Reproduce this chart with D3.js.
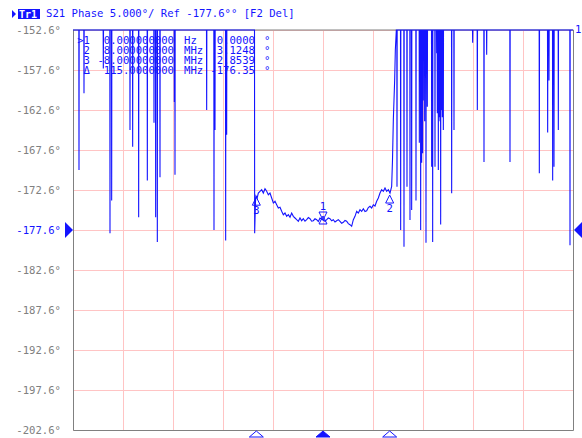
<!DOCTYPE HTML>
<html>
<head>
<meta charset="utf-8" />
<script src="https://d3js.org/d3.v7.min.js"></script>
<style>
body { margin: 0; background: #fff; }
text { font-family: "DejaVu Sans Mono", monospace; font-size: 10.6px; }
</style>
</head>
<body>
<svg id="chart" width="582" height="438"></svg>
<script>
// y axis (degrees), 5 deg/div, ref -177.6
var yTicks = [-152.6, -157.6, -162.6, -167.6, -172.6, -177.6, -182.6, -187.6, -192.6, -197.6, -202.6];
var refValue = -177.6;
// x axis: center 0 Hz, span 60 MHz
var freqTicks = [-30, -24, -18, -12, -6, 0, 6, 12, 18, 24, 30];

// in-band part of the trace (MHz, deg)
var bandFreq = [-8.20, -8.10, -8.04, -7.90, -7.76, -7.56, -7.36, -7.16, -6.96, -6.76, -6.56, -6.36, -6.16, -5.96, -5.76, -5.56, -5.36, -5.16, -4.96, -4.76, -4.56, -4.36, -4.16, -3.96, -3.76, -3.56, -3.36, -3.16, -2.96, -2.76, -2.56, -2.36, -2.16, -1.96, -1.76, -1.56, -1.36, -1.16, -0.96, -0.76, -0.56, -0.36, 0, 0.24, 0.44, 0.64, 0.84, 1.04, 1.24, 1.44, 1.64, 1.84, 2.04, 2.24, 2.44, 2.64, 2.84, 3.04, 3.24, 3.44, 3.64, 3.84, 4.04, 4.24, 4.44, 4.64, 4.84, 5.04, 5.24, 5.44, 5.64, 5.84, 6.04, 6.24, 6.44, 6.64, 6.84, 7.04, 7.24, 7.44, 7.64, 7.84, 8.04, 8.24, 8.34, 8.44, 8.60, 8.68, 8.80];
var bandPhase = [-178.0, -174.0, -173.35, -173.6, -172.98, -172.76, -172.56, -172.98, -172.44, -172.76, -173.19, -172.98, -173.6, -174.23, -174.01, -174.44, -174.85, -174.76, -175.26, -175.69, -175.48, -175.89, -175.69, -176.01, -175.48, -175.89, -176.1, -176.31, -176.51, -176.1, -176.44, -176.19, -176.5, -176.31, -176.05, -176.19, -176.5, -176.44, -176.2, -176.31, -176.55, -176.1, -176.35, -176.5, -176.31, -176.1, -176.19, -176.45, -176.31, -176.6, -176.44, -176.3, -176.51, -176.75, -176.64, -176.4, -176.51, -176.8, -176.94, -177.14, -176.31, -175.89, -175.26, -175.48, -175.06, -175.26, -174.94, -175.3, -175.19, -174.8, -174.64, -174.85, -174.44, -174.6, -174.01, -173.6, -172.98, -172.56, -172.76, -172.35, -172.76, -172.56, -172.98, -172.14, -168.85, -163.85, -158.85, -155.1, -150.0];

// out-of-band: phase sits above the screen with dips down (MHz, deg)
var overRange = -150.0;
var spikeFreq = [-29.28, -28.68, -26.36, -25.56, -25.36, -23.16, -22.84, -22.12, -21.08, -20.28, -20.08, -19.88, -19.56, -17.84, -17.76, -13.96, -13.08, -12.96, -11.68, -11.56,
                 8.88, 9.32, 9.72, 10.08, 10.44, 10.64, 11.16, 11.56, 11.72, 11.84, 11.96, 12.04, 12.20, 12.36, 12.52, 13.04, 13.16, 13.44, 13.64, 13.72, 13.84, 13.96, 14.04, 14.12, 14.24, 14.32, 14.44, 15.44, 15.72, 17.96, 18.52, 19.32, 19.64, 22.44, 25.96, 26.96, 27.12, 27.56, 27.72, 28.24, 29.64];
var spikeDepth = [-170.1, -160.5, -157.4, -178.0, -173.9, -165.1, -167.2, -176.0, -171.4, -164.2, -176.0, -179.1, -171.0, -161.6, -170.7, -162.6, -177.6, -165.1, -178.9, -165.7,
                  -172.2, -177.6, -179.7, -172.2, -176.35, -175.1, -173.9, -166.7, -177.6, -169.2, -168.0, -161.4, -164.0, -179.2, -162.2, -169.7, -179.1, -169.7, -155.5, -163.0, -170.1, -163.5, -164.0, -176.9, -162.6, -163.5, -165.1, -173.0, -165.1, -154.2, -162.6, -169.1, -155.7, -169.1, -170.5, -165.4, -158.9, -171.4, -169.7, -165.1, -179.5];

// markers
var markerIds = ["1", "2", "3"];
var markerFreq = [0, 8, -8];
var markerPhase = [-176.35, -173.23, -173.50];
var tableIds = [">1", "2", "3", "\u0394"];
var tableStim = ["0.000000000", "8.000000000", "-8.000000000", "115.0000000"];
var tableUnit = ["Hz", "MHz", "MHz", "MHz"];
var tableValue = ["0.0000", "3.1248", "2.8539", "-176.35"];

var blue = "#1414ff", gray = "#808080", grid = "#ffc4c4";
var svg = d3.select("#chart");
var plotL = 73, plotR = 573, plotT = 30, plotB = 430;

var x = d3.scaleLinear().domain([-30, 30]).range([plotL, plotR]);
var y = d3.scaleLinear().domain([-202.6, -152.6]).range([plotB, plotT]).clamp(true);

// grid
svg.append("g").selectAll("line").data(yTicks).enter().append("line")
  .attr("x1", plotL).attr("x2", plotR)
  .attr("y1", function(d){ return Math.round(y(d)) + 0.5; }).attr("y2", function(d){ return Math.round(y(d)) + 0.5; })
  .attr("stroke", grid);
svg.append("g").selectAll("line").data(freqTicks).enter().append("line")
  .attr("x1", function(d){ return Math.round(x(d)) + 0.5; }).attr("x2", function(d){ return Math.round(x(d)) + 0.5; })
  .attr("y1", plotT).attr("y2", plotB)
  .attr("stroke", grid);

// frame
svg.append("path")
  .attr("d", "M" + (plotL + 0.5) + "," + plotT + "V" + (plotB + 0.5) + "H" + (plotR + 0.5) + "V" + plotT + "H" + plotL)
  .attr("fill", "none").attr("stroke", gray);

// y labels
svg.append("g").selectAll("text").data(yTicks).enter().append("text")
  .attr("x", 61).attr("y", function(d){ return y(d) + 4; })
  .attr("text-anchor", "end")
  .attr("fill", function(d){ return d === refValue ? blue : gray; })
  .text(function(d){ return d.toFixed(1) + "\u00b0"; });

// reference arrows
svg.append("path")
  .attr("d", "M65," + (y(refValue) - 8) + "L73," + y(refValue) + "L65," + (y(refValue) + 8) + "Z")
  .attr("fill", blue);
svg.append("path")
  .attr("d", "M582," + (y(refValue) - 8) + "L574," + y(refValue) + "L582," + (y(refValue) + 8) + "Z")
  .attr("fill", blue);

// header
svg.append("path").attr("d", "M12,10L16,14L12,18Z").attr("fill", blue);
svg.append("rect").attr("x", 18).attr("y", 9).attr("width", 22).attr("height", 10).attr("fill", blue);
svg.append("text").attr("x", 19).attr("y", 18).attr("fill", "#fff").style("font-weight", "bold").style("font-size", "10px").text("Tr1");
svg.append("text").attr("x", 46).attr("y", 17).attr("fill", blue)
  .text("S21 Phase 5.000\u00b0/ Ref -177.6\u00b0\u00b0 [F2 Del]");

// marker table
var rows = svg.append("g").attr("fill", blue).style("font-size", "10.2px");
tableIds.forEach(function(id, i) {
  var by = 43.5 + i * 10;
  rows.append("text").attr("x", 90).attr("y", by).attr("text-anchor", "end").text(id);
  rows.append("text").attr("x", 174).attr("y", by).attr("text-anchor", "end").text(tableStim[i]);
  rows.append("text").attr("x", 184).attr("y", by).text(tableUnit[i]);
  rows.append("text").attr("x", 255).attr("y", by).attr("text-anchor", "end").text(tableValue[i]);
  rows.append("text").attr("x", 264).attr("y", by).text("\u00b0");
});

// build trace
var trace = [[-30, overRange]];
spikeFreq.forEach(function(f, i) {
  if (f < 0) {
    trace.push([f - 0.02, overRange], [f, spikeDepth[i]], [f + 0.02, overRange]);
  }
});
trace.push([bandFreq[0] - 0.02, overRange]);
bandFreq.forEach(function(f, i) { trace.push([f, bandPhase[i]]); });
spikeFreq.forEach(function(f, i) {
  if (f > 0) {
    trace.push([f - 0.02, overRange], [f, spikeDepth[i]], [f + 0.02, overRange]);
  }
});
trace.push([30, overRange]);

var line = d3.line()
  .x(function(d){ return x(d[0]); })
  .y(function(d){ return y(d[1]); });
svg.append("path").datum(trace)
  .attr("d", line)
  .attr("fill", "none").attr("stroke", blue).attr("stroke-width", 1.1);

// markers on trace
var mk = svg.append("g").attr("fill", "none").attr("stroke", blue);
markerIds.forEach(function(id, i) {
  var mx = x(markerFreq[i]), my = y(markerPhase[i]);
  if (i === 0) {
    mk.append("path").attr("d", "M" + (mx - 4) + "," + (my - 8) + "L" + (mx + 4) + "," + (my - 8) + "L" + mx + "," + my + "Z");
    mk.append("path").attr("d", "M" + (mx - 4) + "," + (my + 4) + "L" + (mx + 4) + "," + (my + 4) + "L" + mx + "," + (my - 4) + "Z");
    svg.append("text").attr("x", mx).attr("y", my - 10).attr("text-anchor", "middle").attr("fill", blue).text(id);
  } else {
    mk.append("path").attr("d", "M" + (mx - 4) + "," + (my + 8) + "L" + (mx + 4) + "," + (my + 8) + "L" + mx + "," + my + "Z");
    svg.append("text").attr("x", mx).attr("y", my + 17).attr("text-anchor", "middle").attr("fill", blue).text(id);
  }
  // marker position along the stimulus axis
  svg.append("path")
    .attr("d", "M" + (mx - 7) + ",437L" + (mx + 7) + ",437L" + mx + "," + (plotB + 1) + "Z")
    .attr("fill", i === 0 ? blue : "none").attr("stroke", blue);
});

// trace number at right
svg.append("text").attr("x", 575).attr("y", 33).attr("fill", blue).text("1");
</script>
</body>
</html>
